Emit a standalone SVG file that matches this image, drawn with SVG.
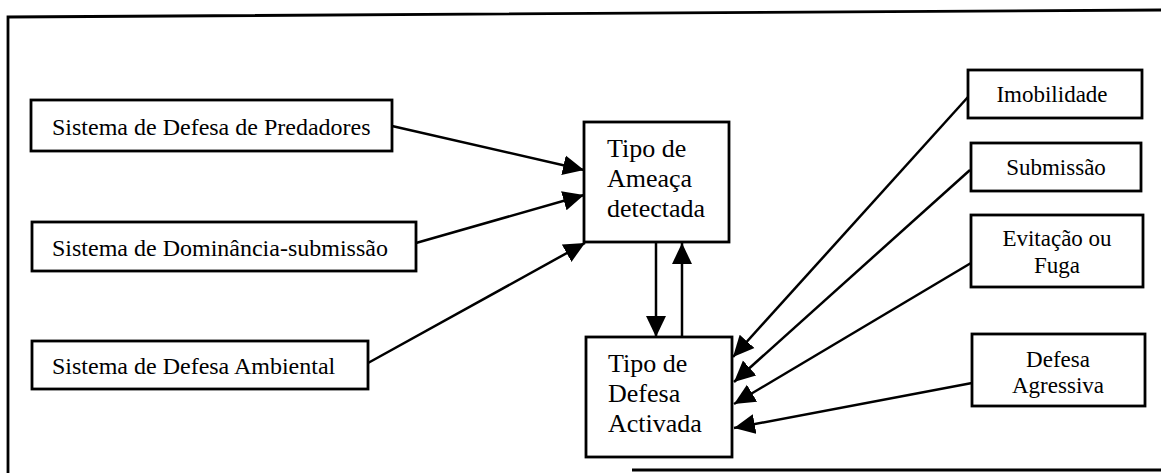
<svg xmlns="http://www.w3.org/2000/svg" width="1161" height="475" viewBox="0 0 1161 475">
<defs>
<style>
.box{fill:#fff;stroke:#000;stroke-width:2.8}
.t{font-family:"Liberation Serif","Times New Roman",serif;fill:#000}
.l{font-size:24px}
.c{font-size:26px}
.r{font-size:23px;text-anchor:middle}
.ln{stroke:#000;stroke-width:2.5;fill:none;marker-end:url(#ah)}
.frame{stroke:#000;stroke-width:2.8;fill:none}
</style>
<marker id="ah" viewBox="0 0 20 20" refX="20" refY="10" markerWidth="21" markerHeight="21" markerUnits="userSpaceOnUse" orient="auto">
<path d="M0,0.5 L20,10 L0,19.5 z" fill="#000"/>
</marker>
</defs>
<rect width="1161" height="475" fill="#fff"/>
<g id="frame">
<polyline class="frame" points="1161,10 8,17 8,473"/>
<line class="frame" x1="632" y1="470" x2="1161" y2="470"/>
</g>
<g id="connectors">
<line class="ln" x1="392" y1="126" x2="584" y2="170"/>
<line class="ln" x1="416" y1="243" x2="584" y2="195"/>
<line class="ln" x1="368" y1="363" x2="585" y2="243"/>
<line class="ln" x1="656" y1="242" x2="656" y2="337"/>
<line class="ln" x1="682" y1="337" x2="682" y2="243"/>
<line class="ln" x1="968" y1="97" x2="733" y2="357"/>
<line class="ln" x1="970" y1="170" x2="734" y2="382"/>
<line class="ln" x1="971" y1="263" x2="734" y2="404"/>
<line class="ln" x1="972" y1="383" x2="734" y2="428"/>
</g>
<g id="n-predadores">
<rect class="box" x="31" y="100" width="361" height="51"/>
<text class="t l" x="52" y="135">Sistema de Defesa de Predadores</text>
</g>
<g id="n-dominancia">
<rect class="box" x="32" y="222" width="384" height="49"/>
<text class="t l" x="52" y="256">Sistema de Dominância-submissão</text>
</g>
<g id="n-ambiental">
<rect class="box" x="32" y="341" width="336" height="48"/>
<text class="t l" x="52" y="374">Sistema de Defesa Ambiental</text>
</g>
<g id="n-ameaca">
<rect class="box" x="584" y="122" width="145" height="120"/>
<text class="t c" x="607" y="157">Tipo de</text>
<text class="t c" x="607" y="187">Ameaça</text>
<text class="t c" x="607" y="217">detectada</text>
</g>
<g id="n-defesa">
<rect class="box" x="586" y="337" width="146" height="120"/>
<text class="t c" x="608" y="372">Tipo de</text>
<text class="t c" x="608" y="402">Defesa</text>
<text class="t c" x="608" y="432">Activada</text>
</g>
<g id="n-imobilidade">
<rect class="box" x="968" y="70" width="174" height="48"/>
<text class="t r" x="1052" y="102">Imobilidade</text>
</g>
<g id="n-submissao">
<rect class="box" x="971" y="143" width="170" height="48"/>
<text class="t r" x="1056" y="175">Submissão</text>
</g>
<g id="n-evitacao">
<rect class="box" x="971" y="215" width="172" height="72"/>
<text class="t r" x="1057" y="246">Evitação ou</text>
<text class="t r" x="1057" y="273">Fuga</text>
</g>
<g id="n-agressiva">
<rect class="box" x="972" y="334" width="173" height="72"/>
<text class="t r" x="1058" y="367">Defesa</text>
<text class="t r" x="1058" y="393">Agressiva</text>
</g>
</svg>
